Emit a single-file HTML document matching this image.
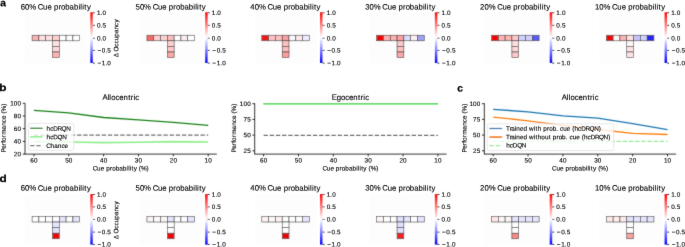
<!DOCTYPE html>
<html><head><meta charset="utf-8"><style>
html,body{margin:0;padding:0;background:#fff;overflow:hidden;}
svg{display:block;font-family:"Liberation Sans", sans-serif;}
</style></head><body>
<svg width="685" height="247" viewBox="0 0 685 247" font-family='"Liberation Sans", sans-serif'>
<defs><filter id="bl" x="0" y="0" width="685" height="247" filterUnits="userSpaceOnUse"><feConvolveMatrix order="3" kernelMatrix="1 2 1 2 24 2 1 2 1" divisor="36" edgeMode="duplicate"/></filter><filter id="tf" x="0" y="0" width="685" height="247" filterUnits="userSpaceOnUse"><feConvolveMatrix order="3" kernelMatrix="0 1 0 1 12 1 0 1 0" divisor="16" edgeMode="duplicate"/></filter><linearGradient id="bwr" x1="0" y1="0" x2="0" y2="1"><stop offset="0" stop-color="#ff0000"/><stop offset="0.5" stop-color="#ffffff"/><stop offset="1" stop-color="#0000ff"/></linearGradient></defs>
<rect width="685" height="247" fill="#fff"/>
<g filter="url(#bl)">
<rect x="25.00" y="12.30" width="62.6" height="50.80" fill="#fdfdfd"/>
<rect x="32.10" y="35.20" width="6.8" height="5.6" fill="#fbb2b2" stroke="#333" stroke-width="0.55"/>
<rect x="38.90" y="35.20" width="6.8" height="5.6" fill="#fde0e0" stroke="#333" stroke-width="0.55"/>
<rect x="45.70" y="35.20" width="6.8" height="5.6" fill="#fde0e0" stroke="#333" stroke-width="0.55"/>
<rect x="52.50" y="35.20" width="6.8" height="5.6" fill="#fcd0d0" stroke="#333" stroke-width="0.55"/>
<rect x="59.30" y="35.20" width="6.8" height="5.6" fill="#fdfdfd" stroke="#333" stroke-width="0.55"/>
<rect x="66.10" y="35.20" width="6.8" height="5.6" fill="#fefefe" stroke="#333" stroke-width="0.55"/>
<rect x="72.90" y="35.20" width="6.8" height="5.6" fill="#fefefe" stroke="#333" stroke-width="0.55"/>
<rect x="52.50" y="40.80" width="6.8" height="5.6" fill="#fde0e0" stroke="#333" stroke-width="0.55"/>
<rect x="52.50" y="46.40" width="6.8" height="5.6" fill="#fdd8d8" stroke="#333" stroke-width="0.55"/>
<rect x="52.50" y="52.00" width="6.8" height="5.6" fill="#fbb4b4" stroke="#333" stroke-width="0.55"/>
<rect x="90.30" y="12.30" width="2.5" height="50.60" fill="url(#bwr)"/>
<line x1="92.80" y1="12.80" x2="94.80" y2="12.80" stroke="#000" stroke-width="0.8"/>
<line x1="92.80" y1="25.30" x2="94.80" y2="25.30" stroke="#000" stroke-width="0.8"/>
<line x1="92.80" y1="38.20" x2="94.80" y2="38.20" stroke="#000" stroke-width="0.8"/>
<line x1="92.80" y1="50.40" x2="94.80" y2="50.40" stroke="#000" stroke-width="0.8"/>
<line x1="92.80" y1="63.10" x2="94.80" y2="63.10" stroke="#000" stroke-width="0.8"/>
<rect x="139.85" y="12.30" width="62.6" height="50.80" fill="#fdfdfd"/>
<rect x="146.95" y="35.20" width="6.8" height="5.6" fill="#f86a6a" stroke="#333" stroke-width="0.55"/>
<rect x="153.75" y="35.20" width="6.8" height="5.6" fill="#fcd0d0" stroke="#333" stroke-width="0.55"/>
<rect x="160.55" y="35.20" width="6.8" height="5.6" fill="#fcd0d0" stroke="#333" stroke-width="0.55"/>
<rect x="167.35" y="35.20" width="6.8" height="5.6" fill="#fbbcbc" stroke="#333" stroke-width="0.55"/>
<rect x="174.15" y="35.20" width="6.8" height="5.6" fill="#fefefe" stroke="#333" stroke-width="0.55"/>
<rect x="180.95" y="35.20" width="6.8" height="5.6" fill="#fdeeee" stroke="#333" stroke-width="0.55"/>
<rect x="187.75" y="35.20" width="6.8" height="5.6" fill="#fefefe" stroke="#333" stroke-width="0.55"/>
<rect x="167.35" y="40.80" width="6.8" height="5.6" fill="#fcd0d0" stroke="#333" stroke-width="0.55"/>
<rect x="167.35" y="46.40" width="6.8" height="5.6" fill="#fcc8c8" stroke="#333" stroke-width="0.55"/>
<rect x="167.35" y="52.00" width="6.8" height="5.6" fill="#fba8a8" stroke="#333" stroke-width="0.55"/>
<rect x="205.15" y="12.30" width="2.5" height="50.60" fill="url(#bwr)"/>
<line x1="207.65" y1="12.80" x2="209.65" y2="12.80" stroke="#000" stroke-width="0.8"/>
<line x1="207.65" y1="25.30" x2="209.65" y2="25.30" stroke="#000" stroke-width="0.8"/>
<line x1="207.65" y1="38.20" x2="209.65" y2="38.20" stroke="#000" stroke-width="0.8"/>
<line x1="207.65" y1="50.40" x2="209.65" y2="50.40" stroke="#000" stroke-width="0.8"/>
<line x1="207.65" y1="63.10" x2="209.65" y2="63.10" stroke="#000" stroke-width="0.8"/>
<rect x="254.70" y="12.30" width="62.6" height="50.80" fill="#fdfdfd"/>
<rect x="261.80" y="35.20" width="6.8" height="5.6" fill="#f01818" stroke="#333" stroke-width="0.55"/>
<rect x="268.60" y="35.20" width="6.8" height="5.6" fill="#fcc0c0" stroke="#333" stroke-width="0.55"/>
<rect x="275.40" y="35.20" width="6.8" height="5.6" fill="#fcc0c0" stroke="#333" stroke-width="0.55"/>
<rect x="282.20" y="35.20" width="6.8" height="5.6" fill="#f9a0a0" stroke="#333" stroke-width="0.55"/>
<rect x="289.00" y="35.20" width="6.8" height="5.6" fill="#f8f8ff" stroke="#333" stroke-width="0.55"/>
<rect x="295.80" y="35.20" width="6.8" height="5.6" fill="#fde8e8" stroke="#333" stroke-width="0.55"/>
<rect x="302.60" y="35.20" width="6.8" height="5.6" fill="#ececfe" stroke="#333" stroke-width="0.55"/>
<rect x="282.20" y="40.80" width="6.8" height="5.6" fill="#fcc0c0" stroke="#333" stroke-width="0.55"/>
<rect x="282.20" y="46.40" width="6.8" height="5.6" fill="#fcbcbc" stroke="#333" stroke-width="0.55"/>
<rect x="282.20" y="52.00" width="6.8" height="5.6" fill="#fa9e9e" stroke="#333" stroke-width="0.55"/>
<rect x="320.00" y="12.30" width="2.5" height="50.60" fill="url(#bwr)"/>
<line x1="322.50" y1="12.80" x2="324.50" y2="12.80" stroke="#000" stroke-width="0.8"/>
<line x1="322.50" y1="25.30" x2="324.50" y2="25.30" stroke="#000" stroke-width="0.8"/>
<line x1="322.50" y1="38.20" x2="324.50" y2="38.20" stroke="#000" stroke-width="0.8"/>
<line x1="322.50" y1="50.40" x2="324.50" y2="50.40" stroke="#000" stroke-width="0.8"/>
<line x1="322.50" y1="63.10" x2="324.50" y2="63.10" stroke="#000" stroke-width="0.8"/>
<rect x="369.55" y="12.30" width="62.6" height="50.80" fill="#fdfdfd"/>
<rect x="376.65" y="35.20" width="6.8" height="5.6" fill="#f20000" stroke="#333" stroke-width="0.55"/>
<rect x="383.45" y="35.20" width="6.8" height="5.6" fill="#fcb0b0" stroke="#333" stroke-width="0.55"/>
<rect x="390.25" y="35.20" width="6.8" height="5.6" fill="#fcb0b0" stroke="#333" stroke-width="0.55"/>
<rect x="397.05" y="35.20" width="6.8" height="5.6" fill="#faa0a0" stroke="#333" stroke-width="0.55"/>
<rect x="403.85" y="35.20" width="6.8" height="5.6" fill="#dcdcfc" stroke="#333" stroke-width="0.55"/>
<rect x="410.65" y="35.20" width="6.8" height="5.6" fill="#fdf0f0" stroke="#333" stroke-width="0.55"/>
<rect x="417.45" y="35.20" width="6.8" height="5.6" fill="#a0a0f8" stroke="#333" stroke-width="0.55"/>
<rect x="397.05" y="40.80" width="6.8" height="5.6" fill="#fcc8c8" stroke="#333" stroke-width="0.55"/>
<rect x="397.05" y="46.40" width="6.8" height="5.6" fill="#fcc0c0" stroke="#333" stroke-width="0.55"/>
<rect x="397.05" y="52.00" width="6.8" height="5.6" fill="#faa8a8" stroke="#333" stroke-width="0.55"/>
<rect x="434.85" y="12.30" width="2.5" height="50.60" fill="url(#bwr)"/>
<line x1="437.35" y1="12.80" x2="439.35" y2="12.80" stroke="#000" stroke-width="0.8"/>
<line x1="437.35" y1="25.30" x2="439.35" y2="25.30" stroke="#000" stroke-width="0.8"/>
<line x1="437.35" y1="38.20" x2="439.35" y2="38.20" stroke="#000" stroke-width="0.8"/>
<line x1="437.35" y1="50.40" x2="439.35" y2="50.40" stroke="#000" stroke-width="0.8"/>
<line x1="437.35" y1="63.10" x2="439.35" y2="63.10" stroke="#000" stroke-width="0.8"/>
<rect x="484.40" y="12.30" width="62.6" height="50.80" fill="#fdfdfd"/>
<rect x="491.50" y="35.20" width="6.8" height="5.6" fill="#f40000" stroke="#333" stroke-width="0.55"/>
<rect x="498.30" y="35.20" width="6.8" height="5.6" fill="#fcb4b4" stroke="#333" stroke-width="0.55"/>
<rect x="505.10" y="35.20" width="6.8" height="5.6" fill="#fcb4b4" stroke="#333" stroke-width="0.55"/>
<rect x="511.90" y="35.20" width="6.8" height="5.6" fill="#fcc8c8" stroke="#333" stroke-width="0.55"/>
<rect x="518.70" y="35.20" width="6.8" height="5.6" fill="#d0d0fc" stroke="#333" stroke-width="0.55"/>
<rect x="525.50" y="35.20" width="6.8" height="5.6" fill="#d0d0fc" stroke="#333" stroke-width="0.55"/>
<rect x="532.30" y="35.20" width="6.8" height="5.6" fill="#5a5af4" stroke="#333" stroke-width="0.55"/>
<rect x="511.90" y="40.80" width="6.8" height="5.6" fill="#fde0e0" stroke="#333" stroke-width="0.55"/>
<rect x="511.90" y="46.40" width="6.8" height="5.6" fill="#fdd8d8" stroke="#333" stroke-width="0.55"/>
<rect x="511.90" y="52.00" width="6.8" height="5.6" fill="#fcc8c8" stroke="#333" stroke-width="0.55"/>
<rect x="549.70" y="12.30" width="2.5" height="50.60" fill="url(#bwr)"/>
<line x1="552.20" y1="12.80" x2="554.20" y2="12.80" stroke="#000" stroke-width="0.8"/>
<line x1="552.20" y1="25.30" x2="554.20" y2="25.30" stroke="#000" stroke-width="0.8"/>
<line x1="552.20" y1="38.20" x2="554.20" y2="38.20" stroke="#000" stroke-width="0.8"/>
<line x1="552.20" y1="50.40" x2="554.20" y2="50.40" stroke="#000" stroke-width="0.8"/>
<line x1="552.20" y1="63.10" x2="554.20" y2="63.10" stroke="#000" stroke-width="0.8"/>
<rect x="599.25" y="12.30" width="62.6" height="50.80" fill="#fdfdfd"/>
<rect x="606.35" y="35.20" width="6.8" height="5.6" fill="#f20000" stroke="#333" stroke-width="0.55"/>
<rect x="613.15" y="35.20" width="6.8" height="5.6" fill="#fdf6f6" stroke="#333" stroke-width="0.55"/>
<rect x="619.95" y="35.20" width="6.8" height="5.6" fill="#fbb4b4" stroke="#333" stroke-width="0.55"/>
<rect x="626.75" y="35.20" width="6.8" height="5.6" fill="#fde0e0" stroke="#333" stroke-width="0.55"/>
<rect x="633.55" y="35.20" width="6.8" height="5.6" fill="#c4c4fb" stroke="#333" stroke-width="0.55"/>
<rect x="640.35" y="35.20" width="6.8" height="5.6" fill="#d0d0fc" stroke="#333" stroke-width="0.55"/>
<rect x="647.15" y="35.20" width="6.8" height="5.6" fill="#2828f0" stroke="#333" stroke-width="0.55"/>
<rect x="626.75" y="40.80" width="6.8" height="5.6" fill="#fdf4f4" stroke="#333" stroke-width="0.55"/>
<rect x="626.75" y="46.40" width="6.8" height="5.6" fill="#fde4e4" stroke="#333" stroke-width="0.55"/>
<rect x="626.75" y="52.00" width="6.8" height="5.6" fill="#fde4e4" stroke="#333" stroke-width="0.55"/>
<rect x="664.55" y="12.30" width="2.5" height="50.60" fill="url(#bwr)"/>
<line x1="667.05" y1="12.80" x2="669.05" y2="12.80" stroke="#000" stroke-width="0.8"/>
<line x1="667.05" y1="25.30" x2="669.05" y2="25.30" stroke="#000" stroke-width="0.8"/>
<line x1="667.05" y1="38.20" x2="669.05" y2="38.20" stroke="#000" stroke-width="0.8"/>
<line x1="667.05" y1="50.40" x2="669.05" y2="50.40" stroke="#000" stroke-width="0.8"/>
<line x1="667.05" y1="63.10" x2="669.05" y2="63.10" stroke="#000" stroke-width="0.8"/>
<rect x="25.00" y="194.10" width="62.6" height="50.70" fill="#fdfdfd"/>
<rect x="32.10" y="216.40" width="6.8" height="5.6" fill="#fcfcfc" stroke="#333" stroke-width="0.55"/>
<rect x="38.90" y="216.40" width="6.8" height="5.6" fill="#fefefe" stroke="#333" stroke-width="0.55"/>
<rect x="45.70" y="216.40" width="6.8" height="5.6" fill="#fefefe" stroke="#333" stroke-width="0.55"/>
<rect x="52.50" y="216.40" width="6.8" height="5.6" fill="#fcfcff" stroke="#333" stroke-width="0.55"/>
<rect x="59.30" y="216.40" width="6.8" height="5.6" fill="#e4e4fc" stroke="#333" stroke-width="0.55"/>
<rect x="66.10" y="216.40" width="6.8" height="5.6" fill="#fefefe" stroke="#333" stroke-width="0.55"/>
<rect x="72.90" y="216.40" width="6.8" height="5.6" fill="#e4e4fc" stroke="#333" stroke-width="0.55"/>
<rect x="52.50" y="222.00" width="6.8" height="5.6" fill="#e4e4fc" stroke="#333" stroke-width="0.55"/>
<rect x="52.50" y="227.60" width="6.8" height="5.6" fill="#e0e0fc" stroke="#333" stroke-width="0.55"/>
<rect x="52.50" y="233.20" width="6.8" height="5.6" fill="#f00000" stroke="#333" stroke-width="0.55"/>
<rect x="90.30" y="194.10" width="2.5" height="50.50" fill="url(#bwr)"/>
<line x1="92.80" y1="194.50" x2="94.80" y2="194.50" stroke="#000" stroke-width="0.8"/>
<line x1="92.80" y1="206.90" x2="94.80" y2="206.90" stroke="#000" stroke-width="0.8"/>
<line x1="92.80" y1="219.40" x2="94.80" y2="219.40" stroke="#000" stroke-width="0.8"/>
<line x1="92.80" y1="232.10" x2="94.80" y2="232.10" stroke="#000" stroke-width="0.8"/>
<line x1="92.80" y1="244.40" x2="94.80" y2="244.40" stroke="#000" stroke-width="0.8"/>
<rect x="139.85" y="194.10" width="62.6" height="50.70" fill="#fdfdfd"/>
<rect x="146.95" y="216.40" width="6.8" height="5.6" fill="#fdf4f4" stroke="#333" stroke-width="0.55"/>
<rect x="153.75" y="216.40" width="6.8" height="5.6" fill="#fefafa" stroke="#333" stroke-width="0.55"/>
<rect x="160.55" y="216.40" width="6.8" height="5.6" fill="#fdf4f4" stroke="#333" stroke-width="0.55"/>
<rect x="167.35" y="216.40" width="6.8" height="5.6" fill="#e4e4fc" stroke="#333" stroke-width="0.55"/>
<rect x="174.15" y="216.40" width="6.8" height="5.6" fill="#fefefe" stroke="#333" stroke-width="0.55"/>
<rect x="180.95" y="216.40" width="6.8" height="5.6" fill="#fefefe" stroke="#333" stroke-width="0.55"/>
<rect x="187.75" y="216.40" width="6.8" height="5.6" fill="#e4e4fc" stroke="#333" stroke-width="0.55"/>
<rect x="167.35" y="222.00" width="6.8" height="5.6" fill="#fefefe" stroke="#333" stroke-width="0.55"/>
<rect x="167.35" y="227.60" width="6.8" height="5.6" fill="#fefefe" stroke="#333" stroke-width="0.55"/>
<rect x="167.35" y="233.20" width="6.8" height="5.6" fill="#f00000" stroke="#333" stroke-width="0.55"/>
<rect x="205.15" y="194.10" width="2.5" height="50.50" fill="url(#bwr)"/>
<line x1="207.65" y1="194.50" x2="209.65" y2="194.50" stroke="#000" stroke-width="0.8"/>
<line x1="207.65" y1="206.90" x2="209.65" y2="206.90" stroke="#000" stroke-width="0.8"/>
<line x1="207.65" y1="219.40" x2="209.65" y2="219.40" stroke="#000" stroke-width="0.8"/>
<line x1="207.65" y1="232.10" x2="209.65" y2="232.10" stroke="#000" stroke-width="0.8"/>
<line x1="207.65" y1="244.40" x2="209.65" y2="244.40" stroke="#000" stroke-width="0.8"/>
<rect x="254.70" y="194.10" width="62.6" height="50.70" fill="#fdfdfd"/>
<rect x="261.80" y="216.40" width="6.8" height="5.6" fill="#fdf2f2" stroke="#333" stroke-width="0.55"/>
<rect x="268.60" y="216.40" width="6.8" height="5.6" fill="#fdf6f6" stroke="#333" stroke-width="0.55"/>
<rect x="275.40" y="216.40" width="6.8" height="5.6" fill="#fdf2f2" stroke="#333" stroke-width="0.55"/>
<rect x="282.20" y="216.40" width="6.8" height="5.6" fill="#fefefe" stroke="#333" stroke-width="0.55"/>
<rect x="289.00" y="216.40" width="6.8" height="5.6" fill="#fefefe" stroke="#333" stroke-width="0.55"/>
<rect x="295.80" y="216.40" width="6.8" height="5.6" fill="#fefefe" stroke="#333" stroke-width="0.55"/>
<rect x="302.60" y="216.40" width="6.8" height="5.6" fill="#e4e4fc" stroke="#333" stroke-width="0.55"/>
<rect x="282.20" y="222.00" width="6.8" height="5.6" fill="#fefefe" stroke="#333" stroke-width="0.55"/>
<rect x="282.20" y="227.60" width="6.8" height="5.6" fill="#fefefe" stroke="#333" stroke-width="0.55"/>
<rect x="282.20" y="233.20" width="6.8" height="5.6" fill="#f00000" stroke="#333" stroke-width="0.55"/>
<rect x="320.00" y="194.10" width="2.5" height="50.50" fill="url(#bwr)"/>
<line x1="322.50" y1="194.50" x2="324.50" y2="194.50" stroke="#000" stroke-width="0.8"/>
<line x1="322.50" y1="206.90" x2="324.50" y2="206.90" stroke="#000" stroke-width="0.8"/>
<line x1="322.50" y1="219.40" x2="324.50" y2="219.40" stroke="#000" stroke-width="0.8"/>
<line x1="322.50" y1="232.10" x2="324.50" y2="232.10" stroke="#000" stroke-width="0.8"/>
<line x1="322.50" y1="244.40" x2="324.50" y2="244.40" stroke="#000" stroke-width="0.8"/>
<rect x="369.55" y="194.10" width="62.6" height="50.70" fill="#fdfdfd"/>
<rect x="376.65" y="216.40" width="6.8" height="5.6" fill="#fdf4f4" stroke="#333" stroke-width="0.55"/>
<rect x="383.45" y="216.40" width="6.8" height="5.6" fill="#fefefe" stroke="#333" stroke-width="0.55"/>
<rect x="390.25" y="216.40" width="6.8" height="5.6" fill="#fefefe" stroke="#333" stroke-width="0.55"/>
<rect x="397.05" y="216.40" width="6.8" height="5.6" fill="#e0e0fc" stroke="#333" stroke-width="0.55"/>
<rect x="403.85" y="216.40" width="6.8" height="5.6" fill="#e4e4fc" stroke="#333" stroke-width="0.55"/>
<rect x="410.65" y="216.40" width="6.8" height="5.6" fill="#fefefe" stroke="#333" stroke-width="0.55"/>
<rect x="417.45" y="216.40" width="6.8" height="5.6" fill="#e4e4fc" stroke="#333" stroke-width="0.55"/>
<rect x="397.05" y="222.00" width="6.8" height="5.6" fill="#e0e0fc" stroke="#333" stroke-width="0.55"/>
<rect x="397.05" y="227.60" width="6.8" height="5.6" fill="#e0e0fc" stroke="#333" stroke-width="0.55"/>
<rect x="397.05" y="233.20" width="6.8" height="5.6" fill="#f02020" stroke="#333" stroke-width="0.55"/>
<rect x="434.85" y="194.10" width="2.5" height="50.50" fill="url(#bwr)"/>
<line x1="437.35" y1="194.50" x2="439.35" y2="194.50" stroke="#000" stroke-width="0.8"/>
<line x1="437.35" y1="206.90" x2="439.35" y2="206.90" stroke="#000" stroke-width="0.8"/>
<line x1="437.35" y1="219.40" x2="439.35" y2="219.40" stroke="#000" stroke-width="0.8"/>
<line x1="437.35" y1="232.10" x2="439.35" y2="232.10" stroke="#000" stroke-width="0.8"/>
<line x1="437.35" y1="244.40" x2="439.35" y2="244.40" stroke="#000" stroke-width="0.8"/>
<rect x="484.40" y="194.10" width="62.6" height="50.70" fill="#fdfdfd"/>
<rect x="491.50" y="216.40" width="6.8" height="5.6" fill="#fde4e4" stroke="#333" stroke-width="0.55"/>
<rect x="498.30" y="216.40" width="6.8" height="5.6" fill="#fdf6f6" stroke="#333" stroke-width="0.55"/>
<rect x="505.10" y="216.40" width="6.8" height="5.6" fill="#fdf4f4" stroke="#333" stroke-width="0.55"/>
<rect x="511.90" y="216.40" width="6.8" height="5.6" fill="#e4e4fc" stroke="#333" stroke-width="0.55"/>
<rect x="518.70" y="216.40" width="6.8" height="5.6" fill="#e4e4fc" stroke="#333" stroke-width="0.55"/>
<rect x="525.50" y="216.40" width="6.8" height="5.6" fill="#e4e4fc" stroke="#333" stroke-width="0.55"/>
<rect x="532.30" y="216.40" width="6.8" height="5.6" fill="#e4e4fc" stroke="#333" stroke-width="0.55"/>
<rect x="511.90" y="222.00" width="6.8" height="5.6" fill="#fefefe" stroke="#333" stroke-width="0.55"/>
<rect x="511.90" y="227.60" width="6.8" height="5.6" fill="#fefefe" stroke="#333" stroke-width="0.55"/>
<rect x="511.90" y="233.20" width="6.8" height="5.6" fill="#f88888" stroke="#333" stroke-width="0.55"/>
<rect x="549.70" y="194.10" width="2.5" height="50.50" fill="url(#bwr)"/>
<line x1="552.20" y1="194.50" x2="554.20" y2="194.50" stroke="#000" stroke-width="0.8"/>
<line x1="552.20" y1="206.90" x2="554.20" y2="206.90" stroke="#000" stroke-width="0.8"/>
<line x1="552.20" y1="219.40" x2="554.20" y2="219.40" stroke="#000" stroke-width="0.8"/>
<line x1="552.20" y1="232.10" x2="554.20" y2="232.10" stroke="#000" stroke-width="0.8"/>
<line x1="552.20" y1="244.40" x2="554.20" y2="244.40" stroke="#000" stroke-width="0.8"/>
<rect x="599.25" y="194.10" width="62.6" height="50.70" fill="#fdfdfd"/>
<rect x="606.35" y="216.40" width="6.8" height="5.6" fill="#fde8e8" stroke="#333" stroke-width="0.55"/>
<rect x="613.15" y="216.40" width="6.8" height="5.6" fill="#fdeeee" stroke="#333" stroke-width="0.55"/>
<rect x="619.95" y="216.40" width="6.8" height="5.6" fill="#fdeaea" stroke="#333" stroke-width="0.55"/>
<rect x="626.75" y="216.40" width="6.8" height="5.6" fill="#e0e0fc" stroke="#333" stroke-width="0.55"/>
<rect x="633.55" y="216.40" width="6.8" height="5.6" fill="#e4e4fc" stroke="#333" stroke-width="0.55"/>
<rect x="640.35" y="216.40" width="6.8" height="5.6" fill="#e4e4fc" stroke="#333" stroke-width="0.55"/>
<rect x="647.15" y="216.40" width="6.8" height="5.6" fill="#e4e4fc" stroke="#333" stroke-width="0.55"/>
<rect x="626.75" y="222.00" width="6.8" height="5.6" fill="#fefefe" stroke="#333" stroke-width="0.55"/>
<rect x="626.75" y="227.60" width="6.8" height="5.6" fill="#fefefe" stroke="#333" stroke-width="0.55"/>
<rect x="626.75" y="233.20" width="6.8" height="5.6" fill="#f8a0a0" stroke="#333" stroke-width="0.55"/>
<rect x="664.55" y="194.10" width="2.5" height="50.50" fill="url(#bwr)"/>
<line x1="667.05" y1="194.50" x2="669.05" y2="194.50" stroke="#000" stroke-width="0.8"/>
<line x1="667.05" y1="206.90" x2="669.05" y2="206.90" stroke="#000" stroke-width="0.8"/>
<line x1="667.05" y1="219.40" x2="669.05" y2="219.40" stroke="#000" stroke-width="0.8"/>
<line x1="667.05" y1="232.10" x2="669.05" y2="232.10" stroke="#000" stroke-width="0.8"/>
<line x1="667.05" y1="244.40" x2="669.05" y2="244.40" stroke="#000" stroke-width="0.8"/>
<line x1="25.00" y1="103.30" x2="25.00" y2="154.10" stroke="#000" stroke-width="0.8"/>
<line x1="24.60" y1="154.10" x2="216.80" y2="154.10" stroke="#000" stroke-width="0.8"/>
<line x1="22.70" y1="103.30" x2="25.00" y2="103.30" stroke="#000" stroke-width="0.8"/>
<line x1="22.70" y1="116.00" x2="25.00" y2="116.00" stroke="#000" stroke-width="0.8"/>
<line x1="22.70" y1="128.70" x2="25.00" y2="128.70" stroke="#000" stroke-width="0.8"/>
<line x1="22.70" y1="141.40" x2="25.00" y2="141.40" stroke="#000" stroke-width="0.8"/>
<line x1="22.70" y1="154.10" x2="25.00" y2="154.10" stroke="#000" stroke-width="0.8"/>
<line x1="33.90" y1="154.10" x2="33.90" y2="156.40" stroke="#000" stroke-width="0.8"/>
<line x1="68.76" y1="154.10" x2="68.76" y2="156.40" stroke="#000" stroke-width="0.8"/>
<line x1="103.62" y1="154.10" x2="103.62" y2="156.40" stroke="#000" stroke-width="0.8"/>
<line x1="138.48" y1="154.10" x2="138.48" y2="156.40" stroke="#000" stroke-width="0.8"/>
<line x1="173.34" y1="154.10" x2="173.34" y2="156.40" stroke="#000" stroke-width="0.8"/>
<line x1="208.20" y1="154.10" x2="208.20" y2="156.40" stroke="#000" stroke-width="0.8"/>
<polyline points="33.90,135.20 68.76,135.20 103.62,135.20 138.48,135.20 173.34,135.20 208.20,135.20" fill="none" stroke="#6e6e6e" stroke-width="1.25" stroke-linejoin="round" stroke-linecap="butt" stroke-dasharray="4.3,1.87"/>
<polyline points="33.90,141.60 68.76,142.00 103.62,142.60 138.48,142.20 173.34,141.60 208.20,142.00" fill="none" stroke="#90ee90" stroke-width="1.6" stroke-linejoin="round" stroke-linecap="butt"/>
<polyline points="33.90,110.30 68.76,112.90 103.62,117.50 138.48,119.90 173.34,122.30 208.20,125.30" fill="none" stroke="#1d821d" stroke-width="1.3" stroke-linejoin="round" stroke-linecap="butt"/>
<rect x="28.5" y="123.5" width="45.3" height="26.8" rx="1.2" fill="#fff" fill-opacity="0.8" stroke="#d0d0d0" stroke-width="0.5"/>
<line x1="30.2" y1="128.3" x2="42.6" y2="128.3" stroke="#1d821d" stroke-width="1.3"/>
<line x1="30.2" y1="136.8" x2="42.6" y2="136.8" stroke="#90ee90" stroke-width="1.6"/>
<line x1="30.2" y1="145.5" x2="42.6" y2="145.5" stroke="#6e6e6e" stroke-width="1.25" stroke-dasharray="4.3,1.87"/>
<line x1="254.70" y1="103.30" x2="254.70" y2="154.10" stroke="#000" stroke-width="0.8"/>
<line x1="254.30" y1="154.10" x2="446.50" y2="154.10" stroke="#000" stroke-width="0.8"/>
<line x1="252.40" y1="103.70" x2="254.70" y2="103.70" stroke="#000" stroke-width="0.8"/>
<line x1="252.40" y1="119.40" x2="254.70" y2="119.40" stroke="#000" stroke-width="0.8"/>
<line x1="252.40" y1="135.10" x2="254.70" y2="135.10" stroke="#000" stroke-width="0.8"/>
<line x1="252.40" y1="150.80" x2="254.70" y2="150.80" stroke="#000" stroke-width="0.8"/>
<line x1="263.60" y1="154.10" x2="263.60" y2="156.40" stroke="#000" stroke-width="0.8"/>
<line x1="298.46" y1="154.10" x2="298.46" y2="156.40" stroke="#000" stroke-width="0.8"/>
<line x1="333.32" y1="154.10" x2="333.32" y2="156.40" stroke="#000" stroke-width="0.8"/>
<line x1="368.18" y1="154.10" x2="368.18" y2="156.40" stroke="#000" stroke-width="0.8"/>
<line x1="403.04" y1="154.10" x2="403.04" y2="156.40" stroke="#000" stroke-width="0.8"/>
<line x1="437.90" y1="154.10" x2="437.90" y2="156.40" stroke="#000" stroke-width="0.8"/>
<polyline points="263.60,135.30 298.46,135.30 333.32,135.30 368.18,135.30 403.04,135.30 437.90,135.30" fill="none" stroke="#6e6e6e" stroke-width="1.25" stroke-linejoin="round" stroke-linecap="butt" stroke-dasharray="4.3,1.87"/>
<polyline points="263.60,103.65 298.46,103.65 333.32,103.65 368.18,103.65 403.04,103.65 437.90,103.65" fill="none" stroke="#1d821d" stroke-width="1.3" stroke-linejoin="round" stroke-linecap="butt"/>
<polyline points="263.60,104.20 298.46,104.20 333.32,104.20 368.18,104.20 403.04,104.20 437.90,104.20" fill="none" stroke="#90ee90" stroke-width="1.8" stroke-linejoin="round" stroke-linecap="butt"/>
<line x1="484.30" y1="103.30" x2="484.30" y2="154.10" stroke="#000" stroke-width="0.8"/>
<line x1="483.90" y1="154.10" x2="676.10" y2="154.10" stroke="#000" stroke-width="0.8"/>
<line x1="482.00" y1="103.70" x2="484.30" y2="103.70" stroke="#000" stroke-width="0.8"/>
<line x1="482.00" y1="119.40" x2="484.30" y2="119.40" stroke="#000" stroke-width="0.8"/>
<line x1="482.00" y1="135.10" x2="484.30" y2="135.10" stroke="#000" stroke-width="0.8"/>
<line x1="482.00" y1="150.80" x2="484.30" y2="150.80" stroke="#000" stroke-width="0.8"/>
<line x1="493.20" y1="154.10" x2="493.20" y2="156.40" stroke="#000" stroke-width="0.8"/>
<line x1="528.06" y1="154.10" x2="528.06" y2="156.40" stroke="#000" stroke-width="0.8"/>
<line x1="562.92" y1="154.10" x2="562.92" y2="156.40" stroke="#000" stroke-width="0.8"/>
<line x1="597.78" y1="154.10" x2="597.78" y2="156.40" stroke="#000" stroke-width="0.8"/>
<line x1="632.64" y1="154.10" x2="632.64" y2="156.40" stroke="#000" stroke-width="0.8"/>
<line x1="667.50" y1="154.10" x2="667.50" y2="156.40" stroke="#000" stroke-width="0.8"/>
<polyline points="493.20,141.40 528.06,141.40 562.92,141.40 597.78,141.40 632.64,141.40 667.50,141.40" fill="none" stroke="#90ee90" stroke-width="1.2" stroke-linejoin="round" stroke-linecap="butt" stroke-dasharray="4.3,1.87"/>
<polyline points="493.20,117.10 528.06,120.80 562.92,125.30 597.78,129.50 632.64,133.30 667.50,134.50" fill="none" stroke="#ff7f0e" stroke-width="1.3" stroke-linejoin="round" stroke-linecap="butt"/>
<polyline points="493.20,109.30 528.06,111.90 562.92,115.90 597.78,118.10 632.64,123.60 667.50,129.60" fill="none" stroke="#1f77b4" stroke-width="1.3" stroke-linejoin="round" stroke-linecap="butt"/>
<rect x="487.2" y="123.8" width="126.4" height="26.8" rx="1.2" fill="#fff" fill-opacity="0.8" stroke="#d0d0d0" stroke-width="0.5"/>
<line x1="489.4" y1="128.5" x2="502.2" y2="128.5" stroke="#1f77b4" stroke-width="1.3"/>
<line x1="489.4" y1="137.1" x2="502.2" y2="137.1" stroke="#ff7f0e" stroke-width="1.8"/>
<line x1="489.4" y1="145.7" x2="502.2" y2="145.7" stroke="#90ee90" stroke-width="1.2" stroke-dasharray="4.3,1.87"/>
</g>
<g filter="url(#tf)">
<text x="0.30" y="6.30" font-size="10.20" text-anchor="start" font-weight="bold" transform="rotate(0.05 0.30 6.30)" stroke="#000" stroke-width="0.25">a</text>
<text x="-0.70" y="91.00" font-size="10.20" text-anchor="start" font-weight="bold" textLength="7.20" lengthAdjust="spacingAndGlyphs" transform="rotate(0.05 2.90 91.00)" stroke="#000" stroke-width="0.25">b</text>
<text x="457.30" y="91.60" font-size="10.20" text-anchor="start" font-weight="bold" transform="rotate(0.05 457.30 91.60)" stroke="#000" stroke-width="0.25">c</text>
<text x="-0.50" y="182.10" font-size="10.20" text-anchor="start" font-weight="bold" textLength="7.20" lengthAdjust="spacingAndGlyphs" transform="rotate(0.05 3.10 182.10)" stroke="#000" stroke-width="0.25">d</text>
<text x="20.65 25.06 29.26 36.03 37.82 43.08 47.41 51.72 53.94 58.43 61.11 65.28 69.60 73.93 78.38 80.31 82.23 84.34 86.89" y="9.45" font-size="7.76"  stroke="#000" stroke-width="0.12" transform="rotate(0.05 55.74 9.45)">60% Cue probability</text>
<text x="96.97 100.61 102.49" y="15.00" font-size="6.36"  stroke="#000" stroke-width="0.12" transform="rotate(0.05 101.50 15.00)">1.0</text>
<text x="96.97 100.61 102.49" y="27.50" font-size="6.36"  stroke="#000" stroke-width="0.12" transform="rotate(0.05 101.50 27.50)">0.5</text>
<text x="96.97 100.61 102.49" y="40.40" font-size="6.36"  stroke="#000" stroke-width="0.12" transform="rotate(0.05 101.50 40.40)">0.0</text>
<text x="97.47 101.81 105.46 107.33" y="52.60" font-size="6.36"  stroke="#000" stroke-width="0.12" transform="rotate(0.05 103.92 52.60)">−0.5</text>
<text x="97.47 101.81 105.46 107.33" y="65.30" font-size="6.36"  stroke="#000" stroke-width="0.12" transform="rotate(0.05 103.92 65.30)">−1.0</text>
<text x="99.24 103.37 104.98 109.72 112.90 116.14 119.81 123.42 127.02 130.62 133.92" y="38.20" font-size="6.36"  stroke="#000" stroke-width="0.12" transform="rotate(-89.95 118.30 38.20)">Δ Occupancy</text>
<text x="135.50 139.91 144.11 150.88 152.67 157.93 162.26 166.57 168.79 173.28 175.96 180.13 184.45 188.78 193.23 195.16 197.08 199.19 201.74" y="9.45" font-size="7.76"  stroke="#000" stroke-width="0.12" transform="rotate(0.05 170.59 9.45)">50% Cue probability</text>
<text x="211.82 215.46 217.34" y="15.00" font-size="6.36"  stroke="#000" stroke-width="0.12" transform="rotate(0.05 216.35 15.00)">1.0</text>
<text x="211.82 215.46 217.34" y="27.50" font-size="6.36"  stroke="#000" stroke-width="0.12" transform="rotate(0.05 216.35 27.50)">0.5</text>
<text x="211.82 215.46 217.34" y="40.40" font-size="6.36"  stroke="#000" stroke-width="0.12" transform="rotate(0.05 216.35 40.40)">0.0</text>
<text x="212.32 216.66 220.31 222.18" y="52.60" font-size="6.36"  stroke="#000" stroke-width="0.12" transform="rotate(0.05 218.77 52.60)">−0.5</text>
<text x="212.32 216.66 220.31 222.18" y="65.30" font-size="6.36"  stroke="#000" stroke-width="0.12" transform="rotate(0.05 218.77 65.30)">−1.0</text>
<text x="250.35 254.76 258.96 265.73 267.52 272.78 277.11 281.42 283.64 288.13 290.81 294.98 299.30 303.63 308.08 310.01 311.93 314.04 316.59" y="9.45" font-size="7.76"  stroke="#000" stroke-width="0.12" transform="rotate(0.05 285.44 9.45)">40% Cue probability</text>
<text x="326.67 330.31 332.19" y="15.00" font-size="6.36"  stroke="#000" stroke-width="0.12" transform="rotate(0.05 331.20 15.00)">1.0</text>
<text x="326.67 330.31 332.19" y="27.50" font-size="6.36"  stroke="#000" stroke-width="0.12" transform="rotate(0.05 331.20 27.50)">0.5</text>
<text x="326.67 330.31 332.19" y="40.40" font-size="6.36"  stroke="#000" stroke-width="0.12" transform="rotate(0.05 331.20 40.40)">0.0</text>
<text x="327.17 331.51 335.16 337.03" y="52.60" font-size="6.36"  stroke="#000" stroke-width="0.12" transform="rotate(0.05 333.62 52.60)">−0.5</text>
<text x="327.17 331.51 335.16 337.03" y="65.30" font-size="6.36"  stroke="#000" stroke-width="0.12" transform="rotate(0.05 333.62 65.30)">−1.0</text>
<text x="365.20 369.61 373.81 380.58 382.37 387.63 391.96 396.27 398.49 402.98 405.66 409.83 414.15 418.48 422.93 424.86 426.78 428.89 431.44" y="9.45" font-size="7.76"  stroke="#000" stroke-width="0.12" transform="rotate(0.05 400.29 9.45)">30% Cue probability</text>
<text x="441.52 445.16 447.04" y="15.00" font-size="6.36"  stroke="#000" stroke-width="0.12" transform="rotate(0.05 446.05 15.00)">1.0</text>
<text x="441.52 445.16 447.04" y="27.50" font-size="6.36"  stroke="#000" stroke-width="0.12" transform="rotate(0.05 446.05 27.50)">0.5</text>
<text x="441.52 445.16 447.04" y="40.40" font-size="6.36"  stroke="#000" stroke-width="0.12" transform="rotate(0.05 446.05 40.40)">0.0</text>
<text x="442.02 446.36 450.01 451.88" y="52.60" font-size="6.36"  stroke="#000" stroke-width="0.12" transform="rotate(0.05 448.47 52.60)">−0.5</text>
<text x="442.02 446.36 450.01 451.88" y="65.30" font-size="6.36"  stroke="#000" stroke-width="0.12" transform="rotate(0.05 448.47 65.30)">−1.0</text>
<text x="480.05 484.46 488.66 495.43 497.22 502.48 506.81 511.12 513.34 517.83 520.51 524.68 529.00 533.33 537.78 539.71 541.63 543.74 546.29" y="9.45" font-size="7.76"  stroke="#000" stroke-width="0.12" transform="rotate(0.05 515.14 9.45)">20% Cue probability</text>
<text x="556.37 560.01 561.89" y="15.00" font-size="6.36"  stroke="#000" stroke-width="0.12" transform="rotate(0.05 560.90 15.00)">1.0</text>
<text x="556.37 560.01 561.89" y="27.50" font-size="6.36"  stroke="#000" stroke-width="0.12" transform="rotate(0.05 560.90 27.50)">0.5</text>
<text x="556.37 560.01 561.89" y="40.40" font-size="6.36"  stroke="#000" stroke-width="0.12" transform="rotate(0.05 560.90 40.40)">0.0</text>
<text x="556.87 561.21 564.86 566.73" y="52.60" font-size="6.36"  stroke="#000" stroke-width="0.12" transform="rotate(0.05 563.32 52.60)">−0.5</text>
<text x="556.87 561.21 564.86 566.73" y="65.30" font-size="6.36"  stroke="#000" stroke-width="0.12" transform="rotate(0.05 563.32 65.30)">−1.0</text>
<text x="594.90 599.31 603.51 610.28 612.07 617.33 621.66 625.97 628.19 632.68 635.36 639.53 643.85 648.18 652.63 654.56 656.48 658.59 661.14" y="9.45" font-size="7.76"  stroke="#000" stroke-width="0.12" transform="rotate(0.05 629.99 9.45)">10% Cue probability</text>
<text x="671.22 674.86 676.74" y="15.00" font-size="6.36"  stroke="#000" stroke-width="0.12" transform="rotate(0.05 675.75 15.00)">1.0</text>
<text x="671.22 674.86 676.74" y="27.50" font-size="6.36"  stroke="#000" stroke-width="0.12" transform="rotate(0.05 675.75 27.50)">0.5</text>
<text x="671.22 674.86 676.74" y="40.40" font-size="6.36"  stroke="#000" stroke-width="0.12" transform="rotate(0.05 675.75 40.40)">0.0</text>
<text x="671.72 676.06 679.71 681.58" y="52.60" font-size="6.36"  stroke="#000" stroke-width="0.12" transform="rotate(0.05 678.17 52.60)">−0.5</text>
<text x="671.72 676.06 679.71 681.58" y="65.30" font-size="6.36"  stroke="#000" stroke-width="0.12" transform="rotate(0.05 678.17 65.30)">−1.0</text>
<text x="20.65 25.06 29.26 36.03 37.82 43.08 47.41 51.72 53.94 58.43 61.11 65.28 69.60 73.93 78.38 80.31 82.23 84.34 86.89" y="190.65" font-size="7.76"  stroke="#000" stroke-width="0.12" transform="rotate(0.05 55.74 190.65)">60% Cue probability</text>
<text x="96.97 100.61 102.49" y="196.70" font-size="6.36"  stroke="#000" stroke-width="0.12" transform="rotate(0.05 101.50 196.70)">1.0</text>
<text x="96.97 100.61 102.49" y="209.10" font-size="6.36"  stroke="#000" stroke-width="0.12" transform="rotate(0.05 101.50 209.10)">0.5</text>
<text x="96.97 100.61 102.49" y="221.60" font-size="6.36"  stroke="#000" stroke-width="0.12" transform="rotate(0.05 101.50 221.60)">0.0</text>
<text x="97.47 101.81 105.46 107.33" y="234.30" font-size="6.36"  stroke="#000" stroke-width="0.12" transform="rotate(0.05 103.92 234.30)">−0.5</text>
<text x="97.47 101.81 105.46 107.33" y="246.60" font-size="6.36"  stroke="#000" stroke-width="0.12" transform="rotate(0.05 103.92 246.60)">−1.0</text>
<text x="99.24 103.37 104.98 109.72 112.90 116.14 119.81 123.42 127.02 130.62 133.92" y="220.20" font-size="6.36"  stroke="#000" stroke-width="0.12" transform="rotate(-89.95 118.30 220.20)">Δ Occupancy</text>
<text x="135.50 139.91 144.11 150.88 152.67 157.93 162.26 166.57 168.79 173.28 175.96 180.13 184.45 188.78 193.23 195.16 197.08 199.19 201.74" y="190.65" font-size="7.76"  stroke="#000" stroke-width="0.12" transform="rotate(0.05 170.59 190.65)">50% Cue probability</text>
<text x="211.82 215.46 217.34" y="196.70" font-size="6.36"  stroke="#000" stroke-width="0.12" transform="rotate(0.05 216.35 196.70)">1.0</text>
<text x="211.82 215.46 217.34" y="209.10" font-size="6.36"  stroke="#000" stroke-width="0.12" transform="rotate(0.05 216.35 209.10)">0.5</text>
<text x="211.82 215.46 217.34" y="221.60" font-size="6.36"  stroke="#000" stroke-width="0.12" transform="rotate(0.05 216.35 221.60)">0.0</text>
<text x="212.32 216.66 220.31 222.18" y="234.30" font-size="6.36"  stroke="#000" stroke-width="0.12" transform="rotate(0.05 218.77 234.30)">−0.5</text>
<text x="212.32 216.66 220.31 222.18" y="246.60" font-size="6.36"  stroke="#000" stroke-width="0.12" transform="rotate(0.05 218.77 246.60)">−1.0</text>
<text x="250.35 254.76 258.96 265.73 267.52 272.78 277.11 281.42 283.64 288.13 290.81 294.98 299.30 303.63 308.08 310.01 311.93 314.04 316.59" y="190.65" font-size="7.76"  stroke="#000" stroke-width="0.12" transform="rotate(0.05 285.44 190.65)">40% Cue probability</text>
<text x="326.67 330.31 332.19" y="196.70" font-size="6.36"  stroke="#000" stroke-width="0.12" transform="rotate(0.05 331.20 196.70)">1.0</text>
<text x="326.67 330.31 332.19" y="209.10" font-size="6.36"  stroke="#000" stroke-width="0.12" transform="rotate(0.05 331.20 209.10)">0.5</text>
<text x="326.67 330.31 332.19" y="221.60" font-size="6.36"  stroke="#000" stroke-width="0.12" transform="rotate(0.05 331.20 221.60)">0.0</text>
<text x="327.17 331.51 335.16 337.03" y="234.30" font-size="6.36"  stroke="#000" stroke-width="0.12" transform="rotate(0.05 333.62 234.30)">−0.5</text>
<text x="327.17 331.51 335.16 337.03" y="246.60" font-size="6.36"  stroke="#000" stroke-width="0.12" transform="rotate(0.05 333.62 246.60)">−1.0</text>
<text x="365.20 369.61 373.81 380.58 382.37 387.63 391.96 396.27 398.49 402.98 405.66 409.83 414.15 418.48 422.93 424.86 426.78 428.89 431.44" y="190.65" font-size="7.76"  stroke="#000" stroke-width="0.12" transform="rotate(0.05 400.29 190.65)">30% Cue probability</text>
<text x="441.52 445.16 447.04" y="196.70" font-size="6.36"  stroke="#000" stroke-width="0.12" transform="rotate(0.05 446.05 196.70)">1.0</text>
<text x="441.52 445.16 447.04" y="209.10" font-size="6.36"  stroke="#000" stroke-width="0.12" transform="rotate(0.05 446.05 209.10)">0.5</text>
<text x="441.52 445.16 447.04" y="221.60" font-size="6.36"  stroke="#000" stroke-width="0.12" transform="rotate(0.05 446.05 221.60)">0.0</text>
<text x="442.02 446.36 450.01 451.88" y="234.30" font-size="6.36"  stroke="#000" stroke-width="0.12" transform="rotate(0.05 448.47 234.30)">−0.5</text>
<text x="442.02 446.36 450.01 451.88" y="246.60" font-size="6.36"  stroke="#000" stroke-width="0.12" transform="rotate(0.05 448.47 246.60)">−1.0</text>
<text x="480.05 484.46 488.66 495.43 497.22 502.48 506.81 511.12 513.34 517.83 520.51 524.68 529.00 533.33 537.78 539.71 541.63 543.74 546.29" y="190.65" font-size="7.76"  stroke="#000" stroke-width="0.12" transform="rotate(0.05 515.14 190.65)">20% Cue probability</text>
<text x="556.37 560.01 561.89" y="196.70" font-size="6.36"  stroke="#000" stroke-width="0.12" transform="rotate(0.05 560.90 196.70)">1.0</text>
<text x="556.37 560.01 561.89" y="209.10" font-size="6.36"  stroke="#000" stroke-width="0.12" transform="rotate(0.05 560.90 209.10)">0.5</text>
<text x="556.37 560.01 561.89" y="221.60" font-size="6.36"  stroke="#000" stroke-width="0.12" transform="rotate(0.05 560.90 221.60)">0.0</text>
<text x="556.87 561.21 564.86 566.73" y="234.30" font-size="6.36"  stroke="#000" stroke-width="0.12" transform="rotate(0.05 563.32 234.30)">−0.5</text>
<text x="556.87 561.21 564.86 566.73" y="246.60" font-size="6.36"  stroke="#000" stroke-width="0.12" transform="rotate(0.05 563.32 246.60)">−1.0</text>
<text x="594.90 599.31 603.51 610.28 612.07 617.33 621.66 625.97 628.19 632.68 635.36 639.53 643.85 648.18 652.63 654.56 656.48 658.59 661.14" y="190.65" font-size="7.76"  stroke="#000" stroke-width="0.12" transform="rotate(0.05 629.99 190.65)">10% Cue probability</text>
<text x="671.22 674.86 676.74" y="196.70" font-size="6.36"  stroke="#000" stroke-width="0.12" transform="rotate(0.05 675.75 196.70)">1.0</text>
<text x="671.22 674.86 676.74" y="209.10" font-size="6.36"  stroke="#000" stroke-width="0.12" transform="rotate(0.05 675.75 209.10)">0.5</text>
<text x="671.22 674.86 676.74" y="221.60" font-size="6.36"  stroke="#000" stroke-width="0.12" transform="rotate(0.05 675.75 221.60)">0.0</text>
<text x="671.72 676.06 679.71 681.58" y="234.30" font-size="6.36"  stroke="#000" stroke-width="0.12" transform="rotate(0.05 678.17 234.30)">−0.5</text>
<text x="671.72 676.06 679.71 681.58" y="246.60" font-size="6.36"  stroke="#000" stroke-width="0.12" transform="rotate(0.05 678.17 246.60)">−1.0</text>
<text x="10.14 13.82 17.49" y="105.50" font-size="6.36"  stroke="#000" stroke-width="0.12" transform="rotate(0.05 15.58 105.50)">100</text>
<text x="13.82 17.49" y="118.20" font-size="6.36"  stroke="#000" stroke-width="0.12" transform="rotate(0.05 17.42 118.20)">80</text>
<text x="13.82 17.49" y="130.90" font-size="6.36"  stroke="#000" stroke-width="0.12" transform="rotate(0.05 17.42 130.90)">60</text>
<text x="13.82 17.49" y="143.60" font-size="6.36"  stroke="#000" stroke-width="0.12" transform="rotate(0.05 17.42 143.60)">40</text>
<text x="13.82 17.49" y="156.30" font-size="6.36"  stroke="#000" stroke-width="0.12" transform="rotate(0.05 17.42 156.30)">20</text>
<text x="30.29 33.97" y="162.60" font-size="6.36"  stroke="#000" stroke-width="0.12" transform="rotate(0.05 33.90 162.60)">60</text>
<text x="65.15 68.83" y="162.60" font-size="6.36"  stroke="#000" stroke-width="0.12" transform="rotate(0.05 68.76 162.60)">50</text>
<text x="100.01 103.69" y="162.60" font-size="6.36"  stroke="#000" stroke-width="0.12" transform="rotate(0.05 103.62 162.60)">40</text>
<text x="134.87 138.55" y="162.60" font-size="6.36"  stroke="#000" stroke-width="0.12" transform="rotate(0.05 138.48 162.60)">30</text>
<text x="169.73 173.41" y="162.60" font-size="6.36"  stroke="#000" stroke-width="0.12" transform="rotate(0.05 173.34 162.60)">20</text>
<text x="204.59 208.27" y="162.60" font-size="6.36"  stroke="#000" stroke-width="0.12" transform="rotate(0.05 208.20 162.60)">10</text>
<text x="92.74 97.11 100.72 104.31 106.17 109.91 112.15 115.63 119.23 122.84 126.54 128.14 129.75 131.51 133.65 136.98 138.85 140.96 146.60" y="170.60" font-size="6.36"  stroke="#000" stroke-width="0.12" transform="rotate(0.05 120.90 170.60)">Cue probability (%)</text>
<text x="102.38 107.44 109.37 111.15 115.40 119.22 123.54 128.18 130.75 133.56 135.35" y="99.90" font-size="7.76"  stroke="#000" stroke-width="0.12" transform="rotate(0.05 120.90 99.90)">Allocentric</text>
<text x="-18.81 -14.94 -11.47 -9.09 -7.19 -3.52 -1.11 4.26 7.86 11.46 14.65 18.23 20.10 22.21 27.85" y="127.90" font-size="6.36"  stroke="#000" stroke-width="0.12" transform="rotate(-89.95 5.80 127.90)">Performance (%)</text>
<text x="46.56 50.16 53.27 57.50 61.61 66.22" y="130.80" font-size="6.36"  stroke="#000" stroke-width="0.12" transform="rotate(0.05 58.59 130.80)">hcDRQN</text>
<text x="46.56 50.16 53.27 57.59 62.21" y="139.30" font-size="6.36"  stroke="#000" stroke-width="0.12" transform="rotate(0.05 56.58 139.30)">hcDQN</text>
<text x="46.22 50.60 54.20 57.80 61.40 64.59" y="148.00" font-size="6.36"  stroke="#000" stroke-width="0.12" transform="rotate(0.05 57.32 148.00)">Chance</text>
<text x="239.84 243.52 247.19" y="105.90" font-size="6.36"  stroke="#000" stroke-width="0.12" transform="rotate(0.05 245.28 105.90)">100</text>
<text x="243.52 247.19" y="121.60" font-size="6.36"  stroke="#000" stroke-width="0.12" transform="rotate(0.05 247.12 121.60)">75</text>
<text x="243.52 247.19" y="137.30" font-size="6.36"  stroke="#000" stroke-width="0.12" transform="rotate(0.05 247.12 137.30)">50</text>
<text x="243.52 247.19" y="153.00" font-size="6.36"  stroke="#000" stroke-width="0.12" transform="rotate(0.05 247.12 153.00)">25</text>
<text x="259.99 263.67" y="162.60" font-size="6.36"  stroke="#000" stroke-width="0.12" transform="rotate(0.05 263.60 162.60)">60</text>
<text x="294.85 298.53" y="162.60" font-size="6.36"  stroke="#000" stroke-width="0.12" transform="rotate(0.05 298.46 162.60)">50</text>
<text x="329.71 333.39" y="162.60" font-size="6.36"  stroke="#000" stroke-width="0.12" transform="rotate(0.05 333.32 162.60)">40</text>
<text x="364.57 368.25" y="162.60" font-size="6.36"  stroke="#000" stroke-width="0.12" transform="rotate(0.05 368.18 162.60)">30</text>
<text x="399.43 403.11" y="162.60" font-size="6.36"  stroke="#000" stroke-width="0.12" transform="rotate(0.05 403.04 162.60)">20</text>
<text x="434.29 437.97" y="162.60" font-size="6.36"  stroke="#000" stroke-width="0.12" transform="rotate(0.05 437.90 162.60)">10</text>
<text x="322.44 326.81 330.42 334.01 335.87 339.61 341.85 345.33 348.93 352.54 356.24 357.84 359.45 361.21 363.35 366.68 368.55 370.66 376.30" y="170.60" font-size="6.36"  stroke="#000" stroke-width="0.12" transform="rotate(0.05 350.60 170.60)">Cue probability (%)</text>
<text x="331.81 336.63 340.95 345.19 349.01 353.34 357.97 360.54 363.36 365.15" y="99.90" font-size="7.76"  stroke="#000" stroke-width="0.12" transform="rotate(0.05 350.60 99.90)">Egocentric</text>
<text x="211.39 215.26 218.73 221.11 223.01 226.68 229.09 234.46 238.06 241.66 244.85 248.43 250.30 252.41 258.05" y="127.90" font-size="6.36"  stroke="#000" stroke-width="0.12" transform="rotate(-89.95 236.00 127.90)">Performance (%)</text>
<text x="469.44 473.12 476.79" y="105.90" font-size="6.36"  stroke="#000" stroke-width="0.12" transform="rotate(0.05 474.88 105.90)">100</text>
<text x="473.12 476.79" y="121.60" font-size="6.36"  stroke="#000" stroke-width="0.12" transform="rotate(0.05 476.72 121.60)">75</text>
<text x="473.12 476.79" y="137.30" font-size="6.36"  stroke="#000" stroke-width="0.12" transform="rotate(0.05 476.72 137.30)">50</text>
<text x="473.12 476.79" y="153.00" font-size="6.36"  stroke="#000" stroke-width="0.12" transform="rotate(0.05 476.72 153.00)">25</text>
<text x="489.59 493.27" y="162.60" font-size="6.36"  stroke="#000" stroke-width="0.12" transform="rotate(0.05 493.20 162.60)">60</text>
<text x="524.45 528.13" y="162.60" font-size="6.36"  stroke="#000" stroke-width="0.12" transform="rotate(0.05 528.06 162.60)">50</text>
<text x="559.31 562.99" y="162.60" font-size="6.36"  stroke="#000" stroke-width="0.12" transform="rotate(0.05 562.92 162.60)">40</text>
<text x="594.17 597.85" y="162.60" font-size="6.36"  stroke="#000" stroke-width="0.12" transform="rotate(0.05 597.78 162.60)">30</text>
<text x="629.03 632.71" y="162.60" font-size="6.36"  stroke="#000" stroke-width="0.12" transform="rotate(0.05 632.64 162.60)">20</text>
<text x="663.89 667.57" y="162.60" font-size="6.36"  stroke="#000" stroke-width="0.12" transform="rotate(0.05 667.50 162.60)">10</text>
<text x="552.04 556.41 560.02 563.61 565.47 569.21 571.45 574.93 578.53 582.14 585.84 587.44 589.05 590.81 592.95 596.28 598.15 600.26 605.90" y="170.60" font-size="6.36"  stroke="#000" stroke-width="0.12" transform="rotate(0.05 580.20 170.60)">Cue probability (%)</text>
<text x="561.68 566.74 568.67 570.45 574.70 578.52 582.84 587.48 590.05 592.86 594.65" y="99.90" font-size="7.76"  stroke="#000" stroke-width="0.12" transform="rotate(0.05 580.20 99.90)">Allocentric</text>
<text x="441.89 445.76 449.23 451.61 453.51 457.18 459.59 464.96 468.56 472.16 475.35 478.93 480.80 482.91 488.55" y="127.90" font-size="6.36"  stroke="#000" stroke-width="0.12" transform="rotate(-89.95 466.50 127.90)">Performance (%)</text>
<text x="505.92 509.76 511.16 514.80 516.37 519.98 523.59 527.23 529.10 533.86 535.61 537.69 541.33 543.20 546.93 549.18 552.65 556.29 558.13 559.93 563.17 566.78 570.36 572.23 574.48 578.08 581.19 585.42 589.53 594.14 598.67" y="130.70" font-size="6.36"  stroke="#000" stroke-width="0.12" transform="rotate(0.05 553.48 130.70)">Trained with prob. cue (hcDRQN)</text>
<text x="505.92 509.76 511.16 514.80 516.37 519.98 523.59 527.23 529.10 533.86 535.61 537.69 541.29 544.89 548.74 550.80 552.66 556.40 558.64 562.12 565.76 567.59 569.39 572.64 576.25 579.83 581.70 583.95 587.55 590.66 594.89 599.00 603.61 608.14" y="139.20" font-size="6.36"  stroke="#000" stroke-width="0.12" transform="rotate(0.05 558.21 139.20)">Trained without prob. cue (hcDRQN)</text>
<text x="506.16 509.76 512.87 517.19 521.81" y="147.60" font-size="6.36"  stroke="#000" stroke-width="0.12" transform="rotate(0.05 516.18 147.60)">hcDQN</text>
</g>
</svg>
</body></html>
